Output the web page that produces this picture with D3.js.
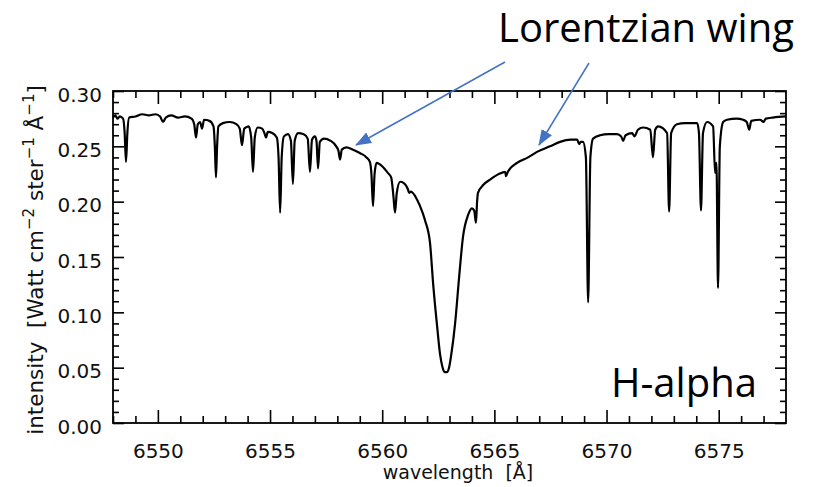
<!DOCTYPE html>
<html><head><meta charset="utf-8">
<script src="https://cdn.jsdelivr.net/npm/d3@7"></script>
<style>body{margin:0;background:#fff} svg{display:block;background:#fff}</style>
</head><body>
<svg id="chart" width="816" height="487"></svg>
<script>
// ---- data ----
const wavelength = [
6548.00,6548.10,6548.20,6548.30,6548.45,6548.52,6548.58,6548.64,6548.72,6549.00,
6549.30,6549.60,6549.90,6550.10,6550.23,6550.35,6550.60,6550.90,6551.20,6551.50,
6551.62,6551.70,6551.78,6551.88,6551.97,6552.06,6552.30,6552.48,6552.54,6552.59,
6552.64,6552.70,6552.90,6553.20,6553.50,6553.65,6553.75,6553.85,6554.05,6554.16,
6554.24,6554.32,6554.45,6554.65,6554.75,6554.82,6554.90,6555.10,6555.30,6555.38,
6555.45,6555.52,6555.62,6555.80,6555.93,6556.02,6556.10,6556.25,6556.50,6556.68,
6556.78,6556.87,6557.00,6557.07,6557.14,6557.22,6557.40,6557.70,6557.95,6558.05,
6558.12,6558.20,6558.40,6558.70,6559.00,6559.30,6559.45,6559.52,6559.59,6559.66,
6559.75,6560.00,6560.25,6560.40,6560.50,6560.57,6560.65,6560.80,6560.95,6561.15,
6561.20,6561.28,6561.55,6561.80,6561.91,6562.13,6562.27,6562.45,6562.58,6562.68,
6562.78,6562.88,6562.98,6563.08,6563.25,6563.43,6563.60,6563.83,6564.00,6564.10,6564.18,
6564.23,6564.27,6564.50,6564.81,6565.20,6565.48,6565.52,6565.60,6566.01,6566.50,
6566.90,6567.48,6567.93,6568.40,6568.69,6568.78,6568.85,6568.95,6569.08,6569.18,
6569.28,6569.40,6569.71,6570.10,6570.47,6570.65,6570.74,6570.85,6571.14,6571.25,
6571.40,6571.63,6571.95,6572.07,6572.17,6572.30,6572.70,6572.79,6572.88,6573.14,
6573.50,6574.04,6574.12,6574.21,6574.30,6574.48,6574.75,6574.84,6574.90,6574.97,
6575.05,6575.20,6575.37,6575.80,6576.09,6576.25,6576.36,6576.45,6576.85,6577.00,
6577.10,6577.42,6578.00];
const intensity = [
0.276,0.278,0.275,0.277,0.275,0.262,0.236,0.262,0.276,0.277,
0.279,0.278,0.279,0.277,0.272,0.276,0.278,0.276,0.277,0.275,
0.270,0.258,0.270,0.272,0.266,0.274,0.273,0.268,0.250,0.222,
0.250,0.268,0.271,0.272,0.270,0.266,0.251,0.266,0.268,0.258,
0.227,0.258,0.267,0.266,0.262,0.258,0.263,0.262,0.258,0.240,
0.190,0.240,0.259,0.261,0.255,0.216,0.255,0.262,0.261,0.257,
0.227,0.256,0.259,0.255,0.230,0.254,0.257,0.255,0.250,0.246,
0.238,0.247,0.249,0.247,0.244,0.240,0.236,0.225,0.196,0.225,
0.235,0.232,0.226,0.222,0.205,0.190,0.208,0.218,0.217,0.211,
0.208,0.209,0.202,0.190,0.183,0.163,0.126,0.087,0.062,0.051,
0.046,0.046,0.050,0.062,0.090,0.132,0.168,0.188,0.194,0.192,0.181,
0.200,0.208,0.215,0.220,0.225,0.227,0.223,0.227,0.235,0.240,
0.245,0.250,0.254,0.256,0.256,0.252,0.254,0.254,0.240,0.109,
0.240,0.257,0.260,0.261,0.261,0.259,0.255,0.260,0.262,0.259,
0.265,0.267,0.265,0.240,0.265,0.268,0.262,0.191,0.262,0.270,
0.271,0.271,0.262,0.192,0.262,0.272,0.268,0.226,0.235,0.122,
0.250,0.272,0.274,0.275,0.274,0.272,0.265,0.273,0.274,0.272,
0.275,0.276,0.277];

const xDomain = [6548, 6578];
const yDomain = [0, 0.30];
const xMajorTicks = [6550, 6555, 6560, 6565, 6570, 6575];
const xTickLabels = ["6550", "6555", "6560", "6565", "6570", "6575"];
const xMinorTicks = [6548,6549,6551,6552,6553,6554,6556,6557,6558,6559,6561,6562,6563,6564,
                     6566,6567,6568,6569,6571,6572,6573,6574,6576,6577];
const yMajorTicks = [0.00, 0.05, 0.10, 0.15, 0.20, 0.25, 0.30];
const yTickLabels = ["0.00", "0.05", "0.10", "0.15", "0.20", "0.25", "0.30"];
const yMinorTicks = [0.01,0.02,0.03,0.04,0.06,0.07,0.08,0.09,0.11,0.12,0.13,0.14,
                     0.16,0.17,0.18,0.19,0.21,0.22,0.23,0.24,0.26,0.27,0.28,0.29];
const titleText = "Lorentzian wing";
const lineName = "H-alpha";
const xTitle = "wavelength  [Å]";

// ---- layout ----
const L = 113, R = 786, T = 91, B = 423;
const svg = d3.select("#chart");
const x = d3.scaleLinear().domain(xDomain).range([L, R]);
const y = d3.scaleLinear().domain(yDomain).range([B, T]);
const tickFont = "DejaVu Sans";

function styleAxis(g) {
  g.select(".domain").remove();
  g.selectAll(".tick line").attr("stroke", "#000").attr("stroke-width", 1.6);
  g.selectAll(".tick text").attr("font-family", tickFont).attr("font-size", 20).attr("fill", "#111");
}

// bottom
svg.append("g").attr("transform", `translate(0,${B})`)
  .call(d3.axisBottom(x).tickValues(xMajorTicks).tickFormat((d,i)=>xTickLabels[i]).tickSize(-13).tickPadding(21))
  .call(styleAxis);
svg.append("g").attr("transform", `translate(0,${B})`)
  .call(d3.axisBottom(x).tickValues(xMinorTicks).tickFormat("").tickSize(-7))
  .call(styleAxis);
// top
svg.append("g").attr("transform", `translate(0,${T})`)
  .call(d3.axisTop(x).tickValues(xMajorTicks).tickFormat("").tickSize(-13))
  .call(styleAxis);
svg.append("g").attr("transform", `translate(0,${T})`)
  .call(d3.axisTop(x).tickValues(xMinorTicks).tickFormat("").tickSize(-7))
  .call(styleAxis);
// left
const gl = svg.append("g").attr("transform", `translate(${L},0)`)
  .call(d3.axisLeft(y).tickValues(yMajorTicks).tickFormat((d,i)=>yTickLabels[i]).tickSize(-11).tickPadding(11))
  .call(styleAxis);
gl.selectAll(".tick text").attr("dy", "0.5em");
svg.append("g").attr("transform", `translate(${L},0)`)
  .call(d3.axisLeft(y).tickValues(yMinorTicks).tickFormat("").tickSize(-6))
  .call(styleAxis);
// right
svg.append("g").attr("transform", `translate(${R},0)`)
  .call(d3.axisRight(y).tickValues(yMajorTicks).tickFormat("").tickSize(-11))
  .call(styleAxis);
svg.append("g").attr("transform", `translate(${R},0)`)
  .call(d3.axisRight(y).tickValues(yMinorTicks).tickFormat("").tickSize(-6))
  .call(styleAxis);

// frame
svg.append("rect").attr("x", L).attr("y", T).attr("width", R - L).attr("height", B - T)
  .attr("fill", "none").attr("stroke", "#000").attr("stroke-width", 1.8);

// spectrum
const pts = wavelength.map((w, i) => [w, intensity[i]]);
svg.append("path").datum(pts)
  .attr("fill", "none").attr("stroke", "#000").attr("stroke-width", 2.2)
  .attr("stroke-linejoin", "round")
  .attr("d", d3.line().curve(d3.curveMonotoneX).x(d => x(d[0])).y(d => y(d[1])));

// axis titles
svg.append("text").attr("x", 458).attr("y", 479).attr("text-anchor", "middle")
  .attr("font-family", tickFont).attr("font-size", 19).attr("fill", "#111")
  .attr("xml:space", "preserve").text(xTitle);

const yt = svg.append("text").attr("transform", `translate(43,${(T + B) / 2 + 3}) rotate(-90)`)
  .attr("text-anchor", "middle").attr("font-family", tickFont).attr("font-size", 21.5).attr("fill", "#111")
  .attr("xml:space", "preserve");
yt.append("tspan").text("intensity  [Watt cm");
yt.append("tspan").attr("dy", -9).attr("font-size", 15).text("−2");
yt.append("tspan").attr("dy", 9).text(" ster");
yt.append("tspan").attr("dy", -9).attr("font-size", 15).text("−1");
yt.append("tspan").attr("dy", 9).text(" Å");
yt.append("tspan").attr("dy", -9).attr("font-size", 15).text("−1");
yt.append("tspan").attr("dy", 9).text("]");

// annotations
svg.append("text").attr("x", 498).attr("y", 42).attr("font-family", "Open Sans")
  .attr("font-size", 40).attr("fill", "#000").text(titleText);
svg.append("text").attr("x", 611).attr("y", 397).attr("font-family", "Open Sans")
  .attr("font-size", 40).attr("fill", "#000").text(lineName);

// arrows
const blue = "#4472C4";
svg.append("defs").append("marker").attr("id", "ah")
  .attr("viewBox", "0 0 16 12").attr("refX", 15).attr("refY", 6)
  .attr("markerWidth", 16).attr("markerHeight", 12).attr("markerUnits", "userSpaceOnUse")
  .attr("orient", "auto")
  .append("path").attr("d", "M0,0 L16,6 L0,12 Z").attr("fill", blue);
svg.append("line").attr("x1", 505).attr("y1", 62).attr("x2", 356).attr("y2", 145)
  .attr("stroke", blue).attr("stroke-width", 1.5).attr("marker-end", "url(#ah)");
svg.append("line").attr("x1", 589).attr("y1", 63).attr("x2", 539).attr("y2", 145)
  .attr("stroke", blue).attr("stroke-width", 1.5).attr("marker-end", "url(#ah)");
</script>
</body></html>
